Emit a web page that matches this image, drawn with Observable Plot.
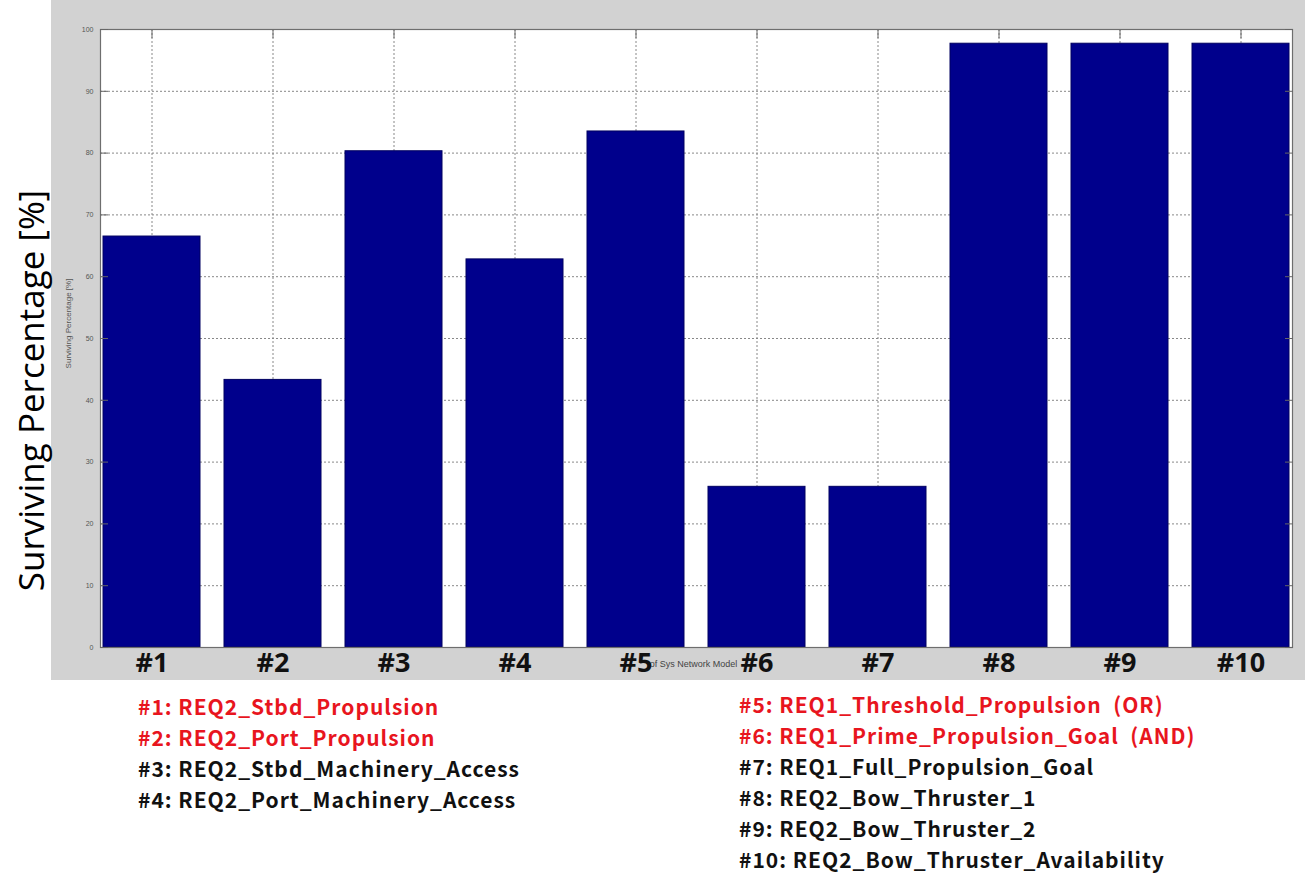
<!DOCTYPE html>
<html>
<head>
<meta charset="utf-8">
<script src="https://cdn.jsdelivr.net/npm/d3@7"></script>
<script src="https://cdn.jsdelivr.net/npm/@observablehq/plot@0.6"></script>
<style>
  html, body { margin: 0; padding: 0; background: #ffffff; }
  #wrap { position: relative; width: 1313px; height: 882px; overflow: hidden; }
  #chart svg { display: block; background: linear-gradient(to right, #ffffff 0px, #ffffff 51px, #d2d2d2 51px, #d2d2d2 1305px, #ffffff 1305px); }
  .leg { position: absolute; font-family: "Noto Sans CJK KR", "Noto Sans", sans-serif; font-weight: 700; font-size: 21px; letter-spacing: 1px; line-height: 31px; white-space: nowrap; }
  .leg div { height: 31px; }
</style>
</head>
<body>
<div id="wrap">
  <div id="chart"></div>
  <div class="leg" id="legL" style="left:138px; top:691px;"></div>
  <div class="leg" id="legR" style="left:739px; top:689px;"></div>
</div>
<script>
const categories = ["#1", "#2", "#3", "#4", "#5", "#6", "#7", "#8", "#9", "#10"];
const values = [66.5, 43.3, 80.3, 62.8, 83.5, 26.0, 26.0, 97.7, 97.7, 97.7];
const yTicks = [0, 10, 20, 30, 40, 50, 60, 70, 80, 90, 100];
const legendLeft = ["#1: REQ2_Stbd_Propulsion", "#2: REQ2_Port_Propulsion", "#3: REQ2_Stbd_Machinery_Access", "#4: REQ2_Port_Machinery_Access"];
const legendLeftRed = [true, true, false, false];
const legendRight = ["#5: REQ1_Threshold_Propulsion  (OR)", "#6: REQ1_Prime_Propulsion_Goal  (AND)", "#7: REQ1_Full_Propulsion_Goal", "#8: REQ2_Bow_Thruster_1", "#9: REQ2_Bow_Thruster_2", "#10: REQ2_Bow_Thruster_Availability"];
const legendRightRed = [true, true, false, false, false, false];
const yLabel = "Surviving Percentage [%]";
const xLabelSmall = "of Sys Network Model";

const data = categories.map((c, i) => ({cat: c, value: values[i]}));

const chart = Plot.plot({
  width: 1313,
  height: 680,
  marginLeft: 100,
  marginRight: 21,
  marginTop: 29,
  marginBottom: 33,
  style: {fontFamily: "Arial, 'Liberation Sans', sans-serif", overflow: "visible"},
  x: {domain: categories, paddingInner: 0.2, paddingOuter: 0, label: null},
  y: {domain: [0, 100], label: null},
  marks: [
    Plot.frame({fill: "#ffffff"}),
    Plot.gridY(yTicks.slice(1, -1), {stroke: "#888", strokeOpacity: 1, strokeDasharray: "2,2"}),
    Plot.ruleX(categories, {x: d => d, stroke: "#888", strokeDasharray: "2,2"}),
    Plot.barY(data, {x: "cat", y: "value", fill: "#00008c", stroke: "#000060", strokeWidth: 1}),
    Plot.frame({stroke: "#6e6e6e", strokeWidth: 1.2}),
    Plot.axisY(yTicks, {anchor: "left", tickSize: -8, tickPadding: 15, fontSize: 7, color: "#555", stroke: "#666"}),
    Plot.axisY(yTicks, {anchor: "right", tickSize: -8, tickFormat: () => "", stroke: "#666"}),
    Plot.axisX({anchor: "top", tickSize: -8, tickFormat: () => "", stroke: "#666"}),
    Plot.text([xLabelSmall], {frameAnchor: "bottom", dx: -3, dy: 19, fontSize: 9, fill: "#444", text: d => d}),
    Plot.axisX({anchor: "bottom", tickSize: 0, tickPadding: 5, fontSize: 27, fontWeight: "bold", color: "#111", fontFamily: "'Open Sans', 'Noto Sans', sans-serif"}),
    Plot.text([yLabel], {frameAnchor: "left", textAnchor: "middle", dx: -68, dy: 52, rotate: -90, fontSize: 35, fill: "#000", fontFamily: "'Open Sans', 'Noto Sans', sans-serif", text: d => d}),
    Plot.text([yLabel], {frameAnchor: "left", textAnchor: "middle", dx: -32, dy: -15, rotate: -90, fontSize: 8, fill: "#555", text: d => d})
  ]
});
document.getElementById("chart").appendChild(chart);

function fillLegend(id, labels, reds) {
  const el = document.getElementById(id);
  labels.forEach((t, i) => {
    const d = document.createElement("div");
    d.textContent = t;
    d.style.color = reds[i] ? "#e8151e" : "#111111";
    d.style.whiteSpace = "pre";
    el.appendChild(d);
  });
}
fillLegend("legL", legendLeft, legendLeftRed);
fillLegend("legR", legendRight, legendRightRed);
</script>
</body>
</html>
